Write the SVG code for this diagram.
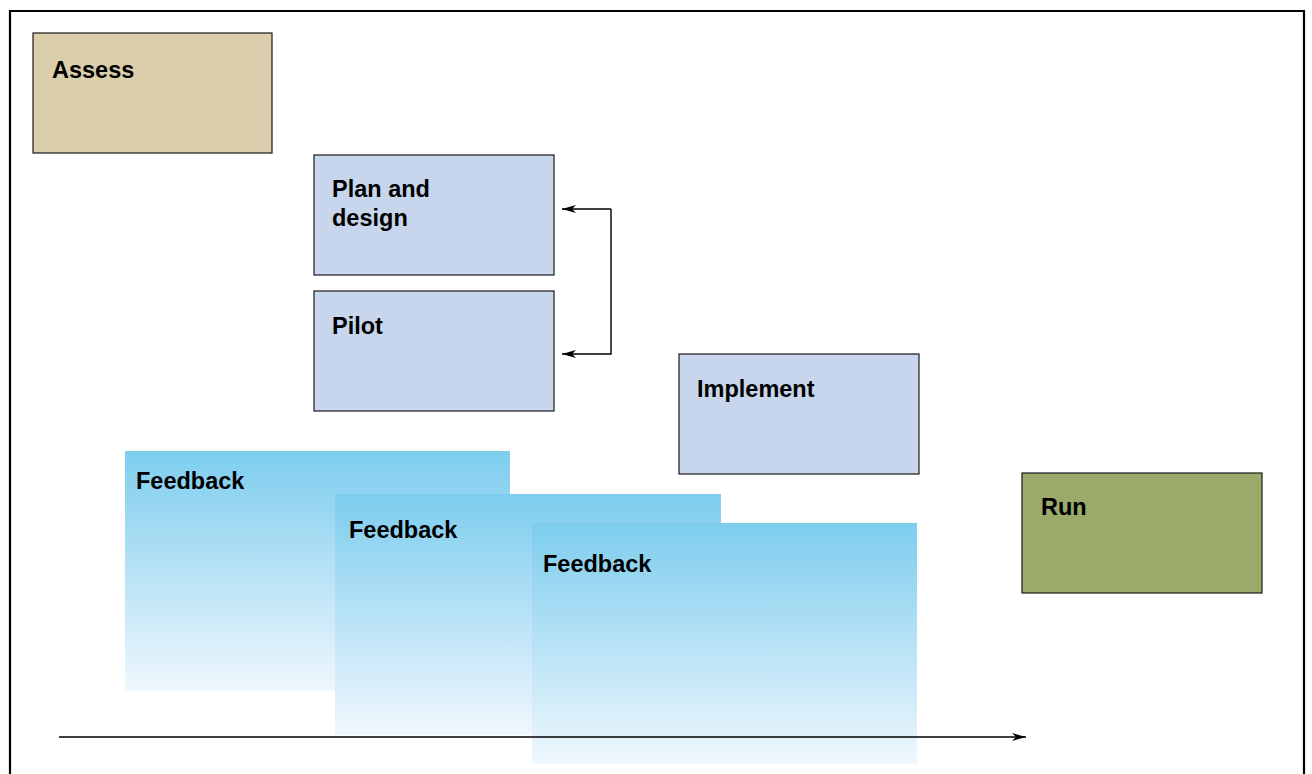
<svg xmlns="http://www.w3.org/2000/svg" width="1312" height="774" viewBox="0 0 1312 774">
<defs>
<linearGradient id="fb" x1="0" y1="0" x2="0" y2="1">
<stop offset="0" stop-color="#7dcdee"/>
<stop offset="1" stop-color="#f0f7fd"/>
</linearGradient>
<marker id="ah" viewBox="0 0 14 8" refX="14" refY="4" markerWidth="14" markerHeight="8" markerUnits="userSpaceOnUse" orient="auto">
<path d="M0,0 L14,4 L0,8 L4,4 Z" fill="#000"/>
</marker>
</defs>
<style>
.box{stroke:#1a1a1a;stroke-width:1.2}
.lbl{font-family:"Liberation Sans",Arial,sans-serif;font-weight:bold;font-size:23.5px;fill:#000}
.con{fill:none;stroke:#000;stroke-width:1.4}
</style>
<rect width="1312" height="774" fill="#fff"/>
<path d="M10,774 V11 H1304 V774" fill="none" stroke="#000" stroke-width="2.2"/>
<g id="feedback1"><rect x="125" y="451" width="385" height="240" fill="url(#fb)"/><text class="lbl" x="136" y="489">Feedback</text></g>
<g id="feedback2"><rect x="335" y="494" width="386" height="241" fill="url(#fb)"/><text class="lbl" x="349" y="538">Feedback</text></g>
<g id="feedback3"><rect x="532" y="523" width="385" height="241" fill="url(#fb)"/><text class="lbl" x="543" y="572">Feedback</text></g>
<g id="assess"><rect class="box" x="33" y="33" width="239" height="120" fill="#dbcead"/><text class="lbl" x="52" y="78">Assess</text></g>
<g id="plan"><rect class="box" x="314" y="155" width="240" height="120" fill="#c7d6ec"/><text class="lbl" x="332" y="197">Plan and</text><text class="lbl" x="332" y="226">design</text></g>
<g id="pilot"><rect class="box" x="314" y="291" width="240" height="120" fill="#c7d6ec"/><text class="lbl" x="332" y="334">Pilot</text></g>
<g id="implement"><rect class="box" x="679" y="354" width="240" height="120" fill="#c7d6ec"/><text class="lbl" x="697" y="397">Implement</text></g>
<g id="run"><rect class="box" x="1022" y="473" width="240" height="120" fill="#99aa6b"/><text class="lbl" x="1041" y="515">Run</text></g>
<g id="connectors">
<path class="con" d="M611,209 H562" marker-end="url(#ah)"/>
<path class="con" d="M611,209 V354 H562" marker-end="url(#ah)"/>
<path class="con" d="M59,737 H1026" marker-end="url(#ah)"/>
</g>
</svg>
